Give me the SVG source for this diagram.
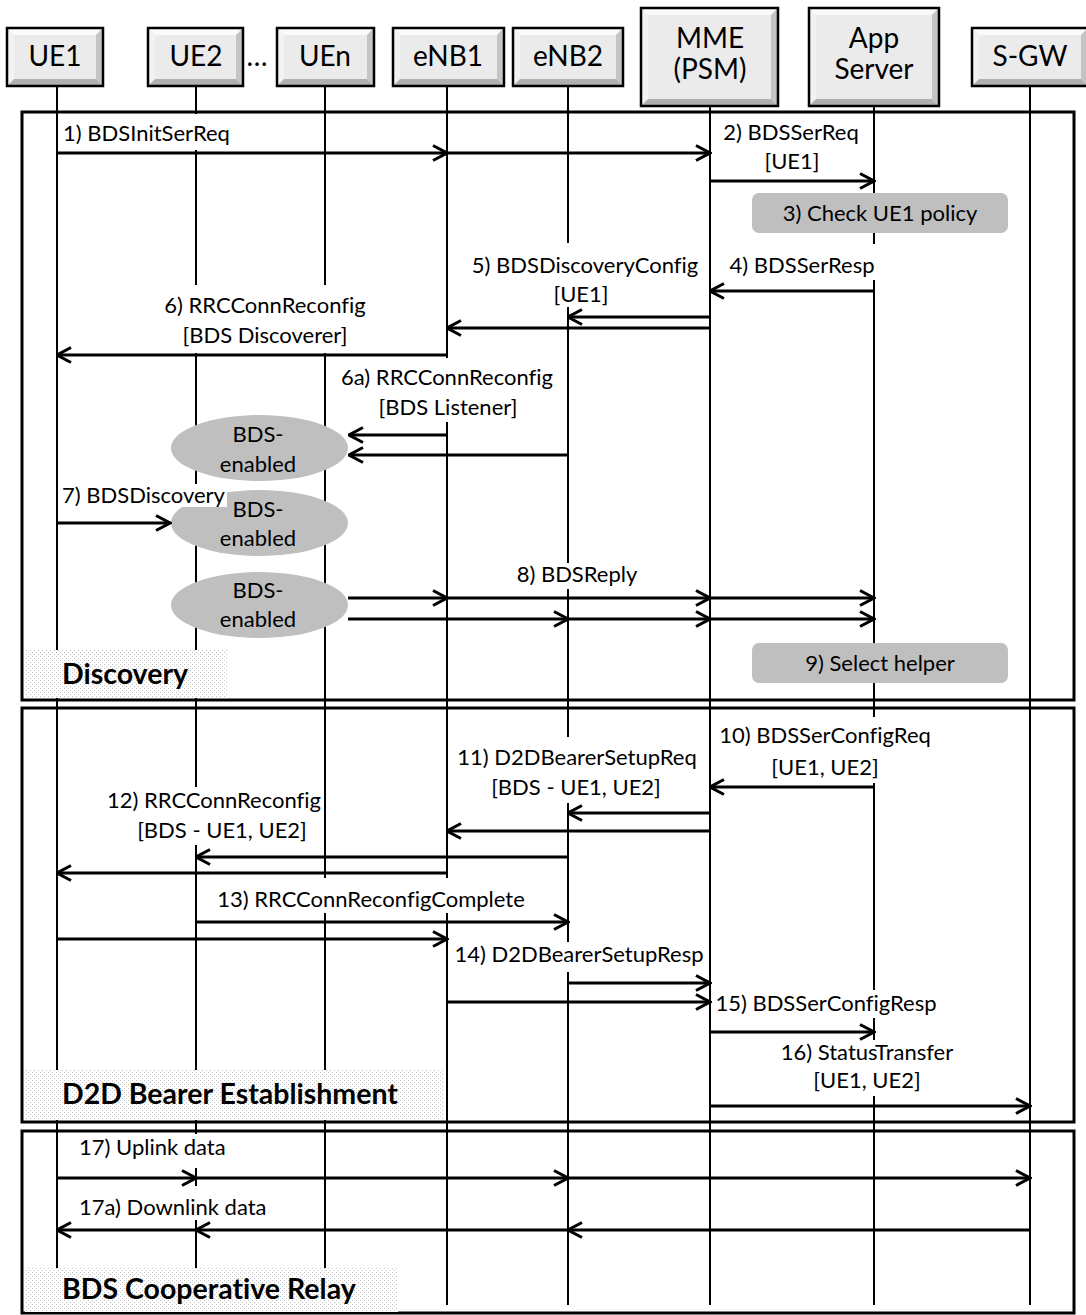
<svg xmlns="http://www.w3.org/2000/svg" width="1086" height="1315" viewBox="0 0 1086 1315">
  <defs>
    <style>
      text { font-variant-ligatures: none; }
      .t { font-family: Lato, "Liberation Sans", sans-serif; font-size: 22px; fill: #000; }
      .c { text-anchor: middle; }
      .h { font-family: Lato, "Liberation Sans", sans-serif; font-size: 28px; fill: #000; text-anchor: middle; }
      .ph { font-family: Lato, "Liberation Sans", sans-serif; font-size: 28.5px; font-weight: bold; fill: #000; }
      .life { stroke: #000; stroke-width: 2; fill: none; }
      .frame { stroke: #000; stroke-width: 3; fill: none; }
      .msg { stroke: #000; stroke-width: 3; fill: none; marker-end: url(#ah); }
      .bg { fill: #fff; }
      .gray { fill: #bfbfbf; }
      .face { fill: #ebebeb; }
      .bt { fill: #fafafa; }
      .bl { fill: #f2f2f2; }
      .br { fill: #c4c4c4; }
      .bb { fill: #b0b0b0; }
      .edge { fill: none; stroke: #000; stroke-width: 2.5; }
    </style>
    <marker id="ah" viewBox="0 0 17 18" refX="15.5" refY="9" markerWidth="17" markerHeight="18" markerUnits="userSpaceOnUse" orient="auto">
      <path d="M1.5,1.5 L15.5,9 L1.5,16.5" fill="none" stroke="#000" stroke-width="3"/>
    </marker>
    <pattern id="dots" width="4" height="4" patternUnits="userSpaceOnUse">
      <rect width="4" height="4" fill="#fff"/>
      <rect x="0" y="0" width="1" height="1" fill="#c4c4c4"/>
      <rect x="2" y="2" width="1" height="1" fill="#c4c4c4"/>
    </pattern>
  </defs>

  <rect width="1086" height="1315" fill="#fff"/>

  <!-- phase frames -->
  <g id="frames">
    <rect class="frame" x="22" y="112" width="1052" height="588"/>
    <rect class="frame" x="22" y="708" width="1052" height="414"/>
    <rect class="frame" x="22" y="1131" width="1052" height="182"/>
  </g>

  <!-- lifelines -->
  <g id="lifelines">
    <line class="life" x1="57" y1="86" x2="57" y2="1305"/>
    <line class="life" x1="196" y1="86" x2="196" y2="1305"/>
    <line class="life" x1="325" y1="86" x2="325" y2="1305"/>
    <line class="life" x1="447" y1="86" x2="447" y2="1305"/>
    <line class="life" x1="568" y1="86" x2="568" y2="1305"/>
    <line class="life" x1="710" y1="106" x2="710" y2="1305"/>
    <line class="life" x1="874" y1="106" x2="874" y2="1305"/>
    <line class="life" x1="1030" y1="86" x2="1030" y2="1305"/>
  </g>

  <!-- participants -->
  <g id="ue1">
    <rect class="face" x="7" y="28" width="96" height="58"/>
    <polygon class="bt" points="7,28 103,28 96,35 14,35"/>
    <polygon class="bl" points="7,28 14,35 14,79 7,86"/>
    <polygon class="br" points="103,28 103,86 96,79 96,35"/>
    <polygon class="bb" points="7,86 14,79 96,79 103,86"/>
    <rect class="edge" x="7" y="28" width="96" height="58"/>
    <text class="h" x="55" y="66">UE1</text>
  </g>
  <g id="ue2">
    <rect class="face" x="148" y="28" width="95" height="58"/>
    <polygon class="bt" points="148,28 243,28 236,35 155,35"/>
    <polygon class="bl" points="148,28 155,35 155,79 148,86"/>
    <polygon class="br" points="243,28 243,86 236,79 236,35"/>
    <polygon class="bb" points="148,86 155,79 236,79 243,86"/>
    <rect class="edge" x="148" y="28" width="95" height="58"/>
    <text class="h" x="196" y="66">UE2</text>
  </g>
  <text class="h" x="257" y="66">…</text>
  <g id="uen">
    <rect class="face" x="277" y="28" width="97" height="58"/>
    <polygon class="bt" points="277,28 374,28 367,35 284,35"/>
    <polygon class="bl" points="277,28 284,35 284,79 277,86"/>
    <polygon class="br" points="374,28 374,86 367,79 367,35"/>
    <polygon class="bb" points="277,86 284,79 367,79 374,86"/>
    <rect class="edge" x="277" y="28" width="97" height="58"/>
    <text class="h" x="325" y="66">UEn</text>
  </g>
  <g id="enb1">
    <rect class="face" x="393" y="28" width="111" height="58"/>
    <polygon class="bt" points="393,28 504,28 497,35 400,35"/>
    <polygon class="bl" points="393,28 400,35 400,79 393,86"/>
    <polygon class="br" points="504,28 504,86 497,79 497,35"/>
    <polygon class="bb" points="393,86 400,79 497,79 504,86"/>
    <rect class="edge" x="393" y="28" width="111" height="58"/>
    <text class="h" x="448" y="66">eNB1</text>
  </g>
  <g id="enb2">
    <rect class="face" x="513" y="28" width="110" height="58"/>
    <polygon class="bt" points="513,28 623,28 616,35 520,35"/>
    <polygon class="bl" points="513,28 520,35 520,79 513,86"/>
    <polygon class="br" points="623,28 623,86 616,79 616,35"/>
    <polygon class="bb" points="513,86 520,79 616,79 623,86"/>
    <rect class="edge" x="513" y="28" width="110" height="58"/>
    <text class="h" x="568" y="66">eNB2</text>
  </g>
  <g id="mme">
    <rect class="face" x="641" y="8" width="137" height="98"/>
    <polygon class="bt" points="641,8 778,8 771,15 648,15"/>
    <polygon class="bl" points="641,8 648,15 648,99 641,106"/>
    <polygon class="br" points="778,8 778,106 771,99 771,15"/>
    <polygon class="bb" points="641,106 648,99 771,99 778,106"/>
    <rect class="edge" x="641" y="8" width="137" height="98"/>
    <text class="h" x="710" y="48">MME</text>
    <text class="h" x="710" y="79">(PSM)</text>
  </g>
  <g id="appserver">
    <rect class="face" x="809" y="8" width="130" height="98"/>
    <polygon class="bt" points="809,8 939,8 932,15 816,15"/>
    <polygon class="bl" points="809,8 816,15 816,99 809,106"/>
    <polygon class="br" points="939,8 939,106 932,99 932,15"/>
    <polygon class="bb" points="809,106 816,99 932,99 939,106"/>
    <rect class="edge" x="809" y="8" width="130" height="98"/>
    <text class="h" x="874" y="48">App</text>
    <text class="h" x="874" y="79">Server</text>
  </g>
  <g id="sgw">
    <rect class="face" x="972" y="28" width="116" height="58"/>
    <polygon class="bt" points="972,28 1088,28 1081,35 979,35"/>
    <polygon class="bl" points="972,28 979,35 979,79 972,86"/>
    <polygon class="br" points="1088,28 1088,86 1081,79 1081,35"/>
    <polygon class="bb" points="972,86 979,79 1081,79 1088,86"/>
    <rect class="edge" x="972" y="28" width="116" height="58"/>
    <text class="h" x="1030" y="66">S-GW</text>
  </g>

  <!-- label backgrounds that mask the lifelines -->
  <g id="label-masks">
    <rect class="bg" x="60" y="114" width="176" height="36"/>
    <rect class="bg" x="727" y="244" width="150" height="36"/>
    <rect class="bg" x="470" y="243" width="232" height="64"/>
    <rect class="bg" x="155" y="285" width="218" height="68"/>
    <rect class="bg" x="332" y="358" width="232" height="64"/>
    <rect class="bg" x="505" y="563" width="143" height="26"/>
    <rect class="bg" x="715" y="717" width="221" height="66"/>
    <rect class="bg" x="452" y="737" width="250" height="66"/>
    <rect class="bg" x="106" y="787" width="216" height="58"/>
    <rect class="bg" x="208" y="878" width="327" height="35"/>
    <rect class="bg" x="450" y="942" width="258" height="30"/>
    <rect class="bg" x="712" y="990" width="229" height="28"/>
    <rect class="bg" x="770" y="1040" width="194" height="56"/>
    <rect class="bg" x="76" y="1134" width="167" height="34"/>
    <rect class="bg" x="76" y="1186" width="198" height="34"/>
  </g>

  <!-- phase titles -->
  <g id="phase-discovery">
    <rect x="25" y="650" width="202" height="48" fill="url(#dots)"/>
    <text class="ph" x="62" y="684">Discovery</text>
  </g>
  <g id="phase-d2d">
    <rect x="25" y="1070" width="418" height="50" fill="url(#dots)"/>
    <text class="ph" x="62" y="1104">D2D Bearer Establishment</text>
  </g>
  <g id="phase-relay">
    <rect x="25" y="1268" width="373" height="44" fill="url(#dots)"/>
    <text class="ph" x="62" y="1299">BDS Cooperative Relay</text>
  </g>

  <!-- actions -->
  <g id="check-policy">
    <rect class="gray" x="752" y="193" width="256" height="40" rx="7"/>
    <text class="t c" x="880" y="221">3) Check UE1 policy</text>
  </g>
  <g id="select-helper">
    <rect class="gray" x="752" y="643" width="256" height="40" rx="7"/>
    <text class="t c" x="880" y="671">9) Select helper</text>
  </g>

  <!-- BDS-enabled UEs -->
  <g id="bds-enabled-1">
    <ellipse class="gray" cx="259.5" cy="448" rx="88.5" ry="33"/>
    <text class="t c" x="258" y="442">BDS-</text>
    <text class="t c" x="258" y="472">enabled</text>
  </g>
  <g id="bds-enabled-2">
    <ellipse class="gray" cx="259.5" cy="523" rx="88.5" ry="33"/>
    <text class="t c" x="258" y="517">BDS-</text>
    <text class="t c" x="258" y="546">enabled</text>
  </g>
  <g id="bds-enabled-3">
    <ellipse class="gray" cx="259.5" cy="605" rx="88.5" ry="33"/>
    <text class="t c" x="258" y="598">BDS-</text>
    <text class="t c" x="258" y="627">enabled</text>
  </g>
  <rect class="bg" x="60" y="484" width="167" height="23"/>

  <!-- message labels -->
  <g id="labels">
    <text class="t" x="63" y="141">1) BDSInitSerReq</text>
    <text class="t c" x="791" y="140">2) BDSSerReq</text>
    <text class="t c" x="792" y="169">[UE1]</text>
    <text class="t c" x="802" y="273">4) BDSSerResp</text>
    <text class="t c" x="585" y="273">5) BDSDiscoveryConfig</text>
    <text class="t c" x="581" y="302">[UE1]</text>
    <text class="t c" x="265" y="313">6) RRCConnReconfig</text>
    <text class="t c" x="265" y="343">[BDS Discoverer]</text>
    <text class="t c" x="447" y="385">6a) RRCConnReconfig</text>
    <text class="t c" x="448" y="415">[BDS Listener]</text>
    <text class="t" x="62" y="503">7) BDSDiscovery</text>
    <text class="t c" x="577" y="582">8) BDSReply</text>
    <text class="t c" x="825" y="743">10) BDSSerConfigReq</text>
    <text class="t c" x="825" y="775">[UE1, UE2]</text>
    <text class="t c" x="577" y="765">11) D2DBearerSetupReq</text>
    <text class="t c" x="576" y="795">[BDS - UE1, UE2]</text>
    <text class="t c" x="214" y="808">12) RRCConnReconfig</text>
    <text class="t c" x="222" y="838">[BDS - UE1, UE2]</text>
    <text class="t c" x="371" y="907">13) RRCConnReconfigComplete</text>
    <text class="t c" x="579" y="962">14) D2DBearerSetupResp</text>
    <text class="t c" x="826" y="1011">15) BDSSerConfigResp</text>
    <text class="t c" x="867" y="1060">16) StatusTransfer</text>
    <text class="t c" x="867" y="1088">[UE1, UE2]</text>
    <text class="t" x="79" y="1155">17) Uplink data</text>
    <text class="t" x="79" y="1215">17a) Downlink data</text>
  </g>

  <!-- messages -->
  <g id="connectors">
    <line class="msg" x1="57" y1="153" x2="447" y2="153"/>
    <line class="msg" x1="447" y1="153" x2="710" y2="153"/>
    <line class="msg" x1="710" y1="181" x2="874" y2="181"/>
    <line class="msg" x1="874" y1="291" x2="710" y2="291"/>
    <line class="msg" x1="710" y1="317" x2="568" y2="317"/>
    <line class="msg" x1="710" y1="328" x2="447" y2="328"/>
    <line class="msg" x1="447" y1="355" x2="57" y2="355"/>
    <line class="msg" x1="447" y1="435" x2="349" y2="435"/>
    <line class="msg" x1="568" y1="455" x2="349" y2="455"/>
    <line class="msg" x1="57" y1="523" x2="170" y2="523"/>
    <line class="msg" x1="348" y1="598" x2="447" y2="598"/>
    <line class="msg" x1="447" y1="598" x2="710" y2="598"/>
    <line class="msg" x1="710" y1="598" x2="874" y2="598"/>
    <line class="msg" x1="348" y1="619" x2="568" y2="619"/>
    <line class="msg" x1="568" y1="619" x2="710" y2="619"/>
    <line class="msg" x1="710" y1="619" x2="874" y2="619"/>
    <line class="msg" x1="874" y1="787" x2="710" y2="787"/>
    <line class="msg" x1="710" y1="813" x2="568" y2="813"/>
    <line class="msg" x1="710" y1="831" x2="447" y2="831"/>
    <line class="msg" x1="568" y1="857" x2="196" y2="857"/>
    <line class="msg" x1="447" y1="873" x2="57" y2="873"/>
    <line class="msg" x1="196" y1="922" x2="568" y2="922"/>
    <line class="msg" x1="57" y1="939" x2="447" y2="939"/>
    <line class="msg" x1="568" y1="983" x2="710" y2="983"/>
    <line class="msg" x1="447" y1="1002" x2="710" y2="1002"/>
    <line class="msg" x1="710" y1="1032" x2="874" y2="1032"/>
    <line class="msg" x1="710" y1="1106" x2="1030" y2="1106"/>
    <line class="msg" x1="57" y1="1178" x2="196" y2="1178"/>
    <line class="msg" x1="196" y1="1178" x2="568" y2="1178"/>
    <line class="msg" x1="568" y1="1178" x2="1030" y2="1178"/>
    <line class="msg" x1="1030" y1="1230" x2="568" y2="1230"/>
    <line class="msg" x1="568" y1="1230" x2="196" y2="1230"/>
    <line class="msg" x1="196" y1="1230" x2="57" y2="1230"/>
  </g>
</svg>
